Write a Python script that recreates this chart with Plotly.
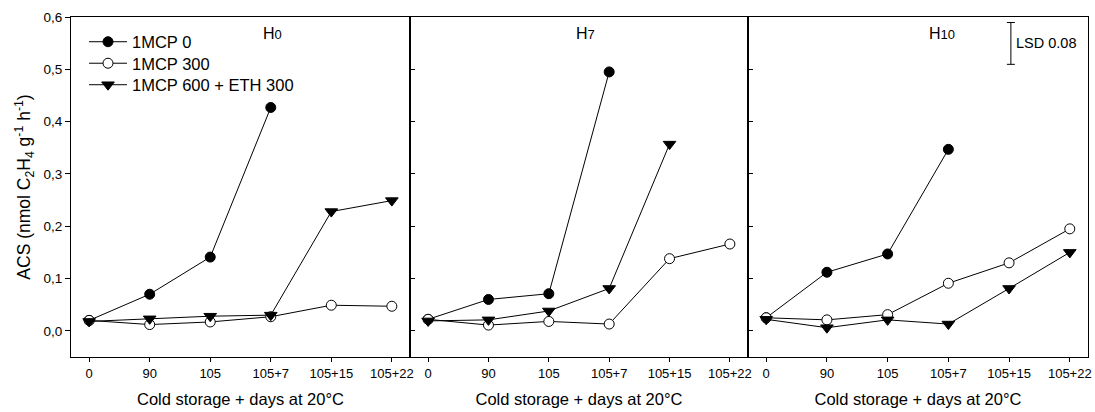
import plotly.graph_objects as go

categories = ["0", "90", "105", "105+7", "105+15", "105+22"]
series_names = ["1MCP 0", "1MCP 300", "1MCP 600 + ETH 300"]
panel_titles = ["H<span style='font-size:13px'>0</span>",
                "H<span style='font-size:13px'>7</span>",
                "H<span style='font-size:13px'>10</span>"]

# H0
h0_mcp0 = [0.020, 0.070, 0.141, 0.427, None, None]
h0_mcp300 = [0.020, 0.012, 0.017, 0.027, 0.049, 0.047]
h0_eth = [0.018, 0.023, 0.028, 0.030, 0.228, 0.249]
# H7
h7_mcp0 = [0.022, 0.060, 0.071, 0.495, None, None]
h7_mcp300 = [0.022, 0.011, 0.018, 0.013, 0.138, 0.166]
h7_eth = [0.019, 0.021, 0.038, 0.081, 0.357, None]
# H10
h10_mcp0 = [0.025, 0.112, 0.147, 0.347, None, None]
h10_mcp300 = [0.025, 0.021, 0.031, 0.091, 0.130, 0.195]
h10_eth = [0.022, 0.006, 0.021, 0.013, 0.081, 0.150]

lsd_value = 0.08
y_ticks = [0.0, 0.1, 0.2, 0.3, 0.4, 0.5, 0.6]

panels = [
    (h0_mcp0, h0_mcp300, h0_eth),
    (h7_mcp0, h7_mcp300, h7_eth),
    (h10_mcp0, h10_mcp300, h10_eth),
]

styles = [
    dict(symbol="circle", size=10, color="black", line=dict(color="black", width=1)),
    dict(symbol="circle", size=10, color="white", line=dict(color="black", width=1)),
    dict(symbol="triangle-down", size=11, color="black", line=dict(color="black", width=1)),
]
legend_ids = ["legend", "legend2", "legend3"]

FONT = "Liberation Sans, Arial, sans-serif"
fig = go.Figure()

xpos = list(range(len(categories)))
for p, data in enumerate(panels):
    xa = "x" if p == 0 else f"x{p+1}"
    ya = "y" if p == 0 else f"y{p+1}"
    for s, vals in enumerate(data):
        fig.add_trace(go.Scatter(
            x=xpos, y=vals, mode="lines+markers",
            name=series_names[s], showlegend=(p == 0),
            legend=legend_ids[s],
            line=dict(color="black", width=1),
            marker=styles[s], connectgaps=False,
            xaxis=xa, yaxis=ya,
        ))

# LSD bar in panel 3
fig.add_trace(go.Scatter(
    x=[4.03], y=[0.5495], mode="markers",
    marker=dict(size=1, color="rgba(0,0,0,0)"),
    error_y=dict(type="data", array=[lsd_value / 2], symmetric=True,
                 color="black", thickness=1, width=4),
    showlegend=False, xaxis="x3", yaxis="y3", hoverinfo="skip",
))
fig.add_annotation(x=4.08, y=0.5495, xref="x3", yref="y3", text="LSD 0.08",
                   showarrow=False, xanchor="left", yanchor="middle",
                   font=dict(size=14.5, color="black", family=FONT))

title_x = [3.03, 2.61, 2.9]
for p in range(3):
    xr = "x" if p == 0 else f"x{p+1}"
    yr = "y" if p == 0 else f"y{p+1}"
    fig.add_annotation(x=title_x[p], y=0.569, xref=xr, yref=yr,
                       text=panel_titles[p], showarrow=False,
                       font=dict(size=16, color="black", family=FONT))

L, R, T, B = 71, 7, 17, 55
W, H = 1095, 412
pw = W - L - R
ph = H - T - B
d1 = (410 - L) / pw
d2 = (748 - L) / pw
domains = [[0, d1], [d1, d2], [d2, 1]]

for p in range(3):
    sfx = "" if p == 0 else str(p + 1)
    fig.update_layout(**{
        f"xaxis{sfx}": dict(
            domain=domains[p], range=[-0.3, 5.3],
            tickvals=xpos, ticktext=categories,
            ticks="outside", ticklen=4, tickcolor="black", tickwidth=1,
            showline=True, linecolor="black", linewidth=1, mirror=True,
            showgrid=False, zeroline=False,
            tickfont=dict(size=13, color="black", family=FONT),
            title=dict(text="Cold storage + days at 20°C",
                       font=dict(size=16.5, color="black", family=FONT),
                       standoff=13),
            anchor="y" if p == 0 else f"y{p+1}",
        ),
        f"yaxis{sfx}": dict(
            range=[-0.05, 0.6], tickvals=y_ticks,
            ticks="outside" if p == 0 else "inside",
            ticklen=5, tickcolor="black", tickwidth=1,
            showticklabels=(p == 0), tickformat=".1f",
            showline=True, linecolor="black", linewidth=1, mirror=True,
            showgrid=False, zeroline=False,
            tickfont=dict(size=13.5, color="black", family=FONT),
            title=dict(text="ACS (nmol C<sub>2</sub>H<sub>4</sub> g<sup>-1</sup> h<sup>-1</sup>)" if p == 0 else "",
                       font=dict(size=17.5, color="black", family=FONT),
                       standoff=8),
            anchor="x" if p == 0 else f"x{p+1}",
        ),
    })

legend_rows_px = [42, 63.5, 85]
legend_common = dict(bgcolor="rgba(0,0,0,0)", borderwidth=0,
                     font=dict(size=16.5, color="black", family=FONT),
                     itemwidth=38, xanchor="left", yanchor="middle")
layout_legends = {}
for i, lid in enumerate(legend_ids):
    layout_legends[lid] = dict(legend_common, x=(84 - L) / pw,
                               y=1 - (legend_rows_px[i] - T) / ph)

fig.update_layout(
    width=W, height=H,
    margin=dict(l=L, r=R, t=T, b=B, autoexpand=False),
    paper_bgcolor="white", plot_bgcolor="white",
    separators=",.",
    font=dict(family=FONT, color="black"),
    showlegend=True,
    **layout_legends,
)

fig.write_html("out.html")
